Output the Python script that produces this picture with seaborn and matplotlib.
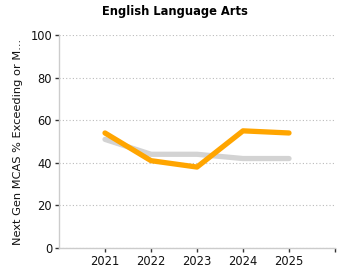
import matplotlib
matplotlib.use("Agg")
import matplotlib.pyplot as plt
import seaborn as sns
import pandas as pd

years = [2021, 2022, 2023, 2024, 2025]
school = [54, 41, 38, 55, 54]
state = [51, 44, 44, 42, 42]

sns.set_style("white")
plt.rcParams['font.family'] = ['DejaVu Sans']

fig = plt.figure(figsize=(3.5, 2.8), dpi=100)
ax = fig.add_axes([59/350, 1 - 248/280, (335-59)/350, (248-35)/280])

df = pd.DataFrame({"year": years + years,
                   "value": state + school,
                   "series": ["State"] * 5 + ["School"] * 5})
sns.lineplot(data=df[df.series == "State"], x="year", y="value", ax=ax,
             color="#D3D3D3", linewidth=3.8, legend=False)
sns.lineplot(data=df[df.series == "School"], x="year", y="value", ax=ax,
             color="#FFA500", linewidth=3.8, legend=False)

ax.set_xlim(2020, 2026)
ax.set_ylim(0, 100)
ax.set_xticks([2021, 2022, 2023, 2024, 2025, 2026])
ax.set_xticklabels(["2021", "2022", "2023", "2024", "2025", ""])
ax.set_yticks([0, 20, 40, 60, 80, 100])
ax.set_yticklabels(["0", "20", "40", "60", "80", "100"])
ax.yaxis.grid(True, linestyle=(0, (1, 2)), color="#BBBBBB", linewidth=0.8)
ax.xaxis.grid(False)
for s in ["top", "right"]:
    ax.spines[s].set_visible(False)
for s in ["left", "bottom"]:
    ax.spines[s].set_color("#CCCCCC")
    ax.spines[s].set_linewidth(1)
ax.tick_params(axis="both", which="both", length=3, width=1, color="#333333",
               labelsize=8.3, labelcolor="#111111", pad=2, bottom=True, left=True)
ax.set_xlabel("")
ax.set_ylabel("Next Gen MCAS % Exceeding or M...", fontsize=8.2, labelpad=5,
              color="#111111")
fig.suptitle("English Language Arts", fontsize=8.3, fontweight="bold",
             x=0.5, y=1 - 12/280, va="center", color="#000000")
fig.savefig("out.png", dpi=100)
